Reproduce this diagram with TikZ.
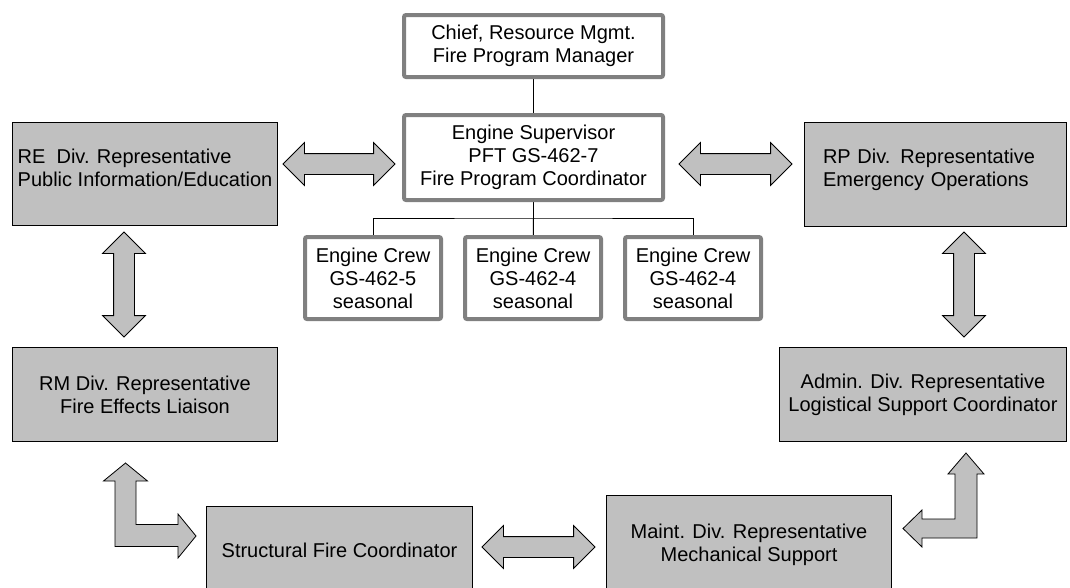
\documentclass[tikz,border=0pt]{standalone}
\usepackage{fontspec}
\setmainfont{Liberation Sans}
\usetikzlibrary{shapes.arrows, backgrounds}
\definecolor{framegray}{HTML}{808080}
\definecolor{divgray}{HTML}{C0C0C0}

\begin{document}
\begin{tikzpicture}[
  x=1pt, y=-1pt,
  font=\fontsize{20}{23}\selectfont,
  whitebox/.style={rectangle, rounded corners=2pt, draw=framegray, line width=4pt, fill=white, align=center, inner sep=2pt},
  divbox/.style={rectangle, draw=black, line width=1pt, fill=divgray, align=center, inner sep=2pt},
  dblarrow/.style={double arrow, draw=black, line width=0.8pt, fill=divgray, double arrow head extend=11pt, double arrow tip angle=90, inner xsep=0pt, inner ysep=10pt, minimum width=42pt},
  larrow/.style={draw=black, line width=0.8pt, fill=divgray, line join=miter},
  link/.style={draw=black, line width=1pt}
]
  \useasboundingbox (0,0) rectangle (1070,587);
  \clip (0,0) rectangle (1070,587);

  \node[whitebox, minimum width=259pt, minimum height=62pt] (chief) at (533.5,46) {Chief, Resource Mgmt.\\Fire Program Manager};
  \node[whitebox, minimum width=259pt, minimum height=85pt] (sup) at (533.5,157.5) {Engine Supervisor\\PFT GS-462-7\\Fire Program Coordinator};
  \node[whitebox, minimum width=136pt, minimum height=82pt] (crew1) at (373,278) {Engine Crew\\GS-462-5\\seasonal};
  \node[whitebox, minimum width=136pt, minimum height=82pt] (crew2) at (533,278) {Engine Crew\\GS-462-4\\seasonal};
  \node[whitebox, minimum width=136pt, minimum height=82pt] (crew3) at (693,278) {Engine Crew\\GS-462-4\\seasonal};

  \node[divbox, align=left, minimum width=265pt, minimum height=103pt, text height=38pt, text depth=14pt] (re) at (145,174) {RE~ Div. Representative\\Public Information/Education};
  \node[divbox, align=left, text width=225pt, inner xsep=18.5pt, minimum height=104pt, text height=15pt, text depth=37pt] (rp) at (935.5,174.5) {RP Div. Representative\\Emergency Operations};
  \node[divbox, minimum width=265pt, minimum height=94pt] (rm) at (145,394.5) {RM Div. Representative\\Fire Effects Liaison};
  \node[divbox, minimum width=287pt, minimum height=94pt] (admin) at (923,394.5) {Admin. Div. Representative\\Logistical Support Coordinator};
  \node[divbox, minimum width=266pt, minimum height=87pt] (struct) at (339.5,550) {Structural Fire Coordinator};
  \node[divbox, minimum width=285pt, minimum height=98pt] (maint) at (749,544.5) {Maint. Div. Representative\\Mechanical Support};

  \begin{scope}[on background layer]
    \coordinate (fork) at (533.5,218);
    \draw[link] (chief) -- (sup);
    \draw[link] (sup) -- (fork);
    \draw[link] (crew1.north) |- (fork) -| (crew3.north);
    \draw[link] (fork) -- (crew2);
  \end{scope}

  \node[dblarrow, minimum height=112pt] (reSup) at (339,164) {};
  \node[dblarrow, minimum height=113pt] (supRp) at (735.5,164) {};
  \node[dblarrow, minimum height=105pt, rotate=90] (reRm) at (124,284.5) {};
  \node[dblarrow, minimum height=105pt, rotate=90] (rpAdmin) at (964,284.5) {};
  \node[dblarrow, minimum height=113pt] (structMaint) at (538.5,547) {};

  \coordinate (rmTip) at (125.5,463);
  \draw[larrow] (rmTip) -- ++(22,18) -- ++(-11.5,0) -- ++(0,43.5) -- ++(42,0) -- ++(0,-10.5) -- ++(18,22)
    -- ++(-18,22) -- ++(0,-11.5) -- ++(-63,0) -- ++(0,-65.5) -- ++(-11.5,0) -- cycle;
  \coordinate (maintTip) at (903,528.5);
  \draw[larrow] (maintTip) -- ++(19,-18.5) -- ++(0,9) -- ++(33,0) -- ++(0,-45) -- ++(-7,0) -- ++(18,-21)
    -- ++(18,21) -- ++(-7,0) -- ++(0,64) -- ++(-55,0) -- ++(0,9) -- cycle;
\end{tikzpicture}
\end{document}
